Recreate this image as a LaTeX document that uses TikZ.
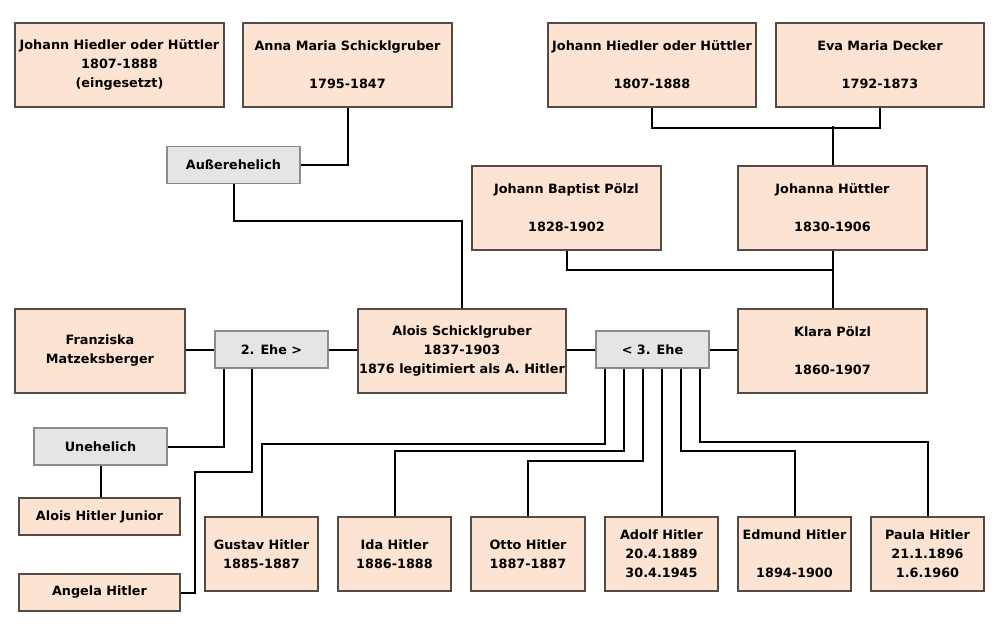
\documentclass[tikz,border=0pt]{standalone}
\usepackage{fontspec}
\setmainfont{DejaVu Sans}
\definecolor{peach}{RGB}{253,228,210}
\definecolor{peachline}{RGB}{85,75,70}
\definecolor{linkfill}{RGB}{229,229,229}
\definecolor{linkline}{RGB}{140,140,140}
\begin{document}
\begin{tikzpicture}[x=0.5pt,y=-0.5pt,
    person/.style={draw=peachline,line width=0.7pt,fill=peach,inner sep=0pt,align=center,font=\fontsize{6.4}{9.5}\selectfont\bfseries},
    union/.style={draw=linkline,line width=0.7pt,fill=linkfill,inner sep=0pt,align=center,minimum width=56.5pt,minimum height=18.5pt,font=\fontsize{6.4}{9.5}\selectfont\bfseries},
    tie/.style={line width=1pt}]
    \useasboundingbox[fill=white] (0,0) rectangle (1000,631);
    \node[person,minimum width=104.5pt,minimum height=42pt] (hiedlerA) at (119.5,65) {Johann Hiedler oder Hüttler\\1807-1888\\(eingesetzt)};
    \node[person,minimum width=104.5pt,minimum height=42pt] (anna) at (347.5,65) {Anna Maria Schicklgruber\\[9.5pt]1795-1847};
    \node[person,minimum width=104pt,minimum height=42pt] (hiedlerB) at (652,65) {Johann Hiedler oder Hüttler\\[9.5pt]1807-1888};
    \node[person,minimum width=104pt,minimum height=42pt] (eva) at (880,65) {Eva Maria Decker\\[9.5pt]1792-1873};
    \node[union,minimum width=66.5pt] (ausser) at (233.5,165) {Außerehelich};
    \node[person,minimum width=94.5pt,minimum height=42pt] (baptist) at (566.5,208) {Johann Baptist Pölzl\\[9.5pt]1828-1902};
    \node[person,minimum width=94.5pt,minimum height=42pt] (johanna) at (832.5,208) {Johanna Hüttler\\[9.5pt]1830-1906};
    \node[person,minimum width=85pt,minimum height=42pt] (franz) at (100,351) {Franziska\\Matzeksberger};
    \node[union] (eheB) at (271.5,349.5) {2. Ehe >};
    \node[person,minimum width=104pt,minimum height=42pt] (alois) at (462,351) {Alois Schicklgruber\\1837-1903\\1876 legitimiert als A. Hitler};
    \node[union] (eheC) at (652.5,349.5) {< 3. Ehe};
    \node[person,minimum width=94.5pt,minimum height=42pt] (klara) at (832.5,351) {Klara Pölzl\\[9.5pt]1860-1907};
    \node[union,minimum width=66.5pt] (unehel) at (100.5,446.5) {Unehelich};
    \node[person,minimum width=80.5pt,minimum height=18.5pt] (junior) at (99.5,516.5) {Alois Hitler Junior};
    \node[person,minimum width=80.5pt,minimum height=18.5pt] (angela) at (99.5,592.5) {Angela Hitler};
    \node[person,minimum width=56.5pt,minimum height=37pt] (gustav) at (261.5,554) {Gustav Hitler\\1885-1887};
    \node[person,minimum width=56.5pt,minimum height=37pt] (ida) at (394.5,554) {Ida Hitler\\1886-1888};
    \node[person,minimum width=57pt,minimum height=37pt] (otto) at (528,554) {Otto Hitler\\1887-1887};
    \node[person,minimum width=56.5pt,minimum height=37pt] (adolf) at (661.5,554) {Adolf Hitler\\20.4.1889\\30.4.1945};
    \node[person,minimum width=56.5pt,minimum height=37pt] (edmund) at (794.5,554) {Edmund Hitler\\[9.5pt]1894-1900};
    \node[person,minimum width=56.5pt,minimum height=37pt] (paula) at (927.5,554) {Paula Hitler\\21.1.1896\\1.6.1960};
    \draw[tie] (hiedlerB.south) -- ++(0,20) -| (eva.south);
    \draw[tie] (johanna.north) -- ++(0,-39);
    \draw[tie] (anna.south) |- (ausser.east);
    \draw[tie] (ausser.south) -- ++(0,37) -| (alois.north);
    \draw[tie] (baptist.south) -- ++(0,19) -| (klara.north);
    \draw[tie] (johanna.south) -- (klara.north);
    \draw[tie] (eheB.west) -- (eheB.west -| franz.east);
    \draw[tie] (eheB.east) -- (eheB.east -| alois.west);
    \draw[tie] (eheC.west) -- (eheC.west -| alois.east);
    \draw[tie] (eheC.east) -- (eheC.east -| klara.west);
    \draw[tie] ([xshift=-23.75pt]eheB.south) |- (unehel.east);
    \draw[tie] (unehel.south) -- (unehel.south |- junior.north);
    \draw[tie] ([xshift=-9.75pt]eheB.south) -- ++(0,103) -- ++(-57,0) |- (angela.east);
    \foreach \kid/\dx/\dy in {gustav/-24/75,ida/-14.5/82,otto/-5/92,edmund/14/82,paula/23.75/73} {
      \draw[tie] ([xshift=\dx pt]eheC.south) -- ++(0,\dy) -| (\kid.north);
    }
    \draw[tie] (adolf.north |- eheC.south) -- (adolf.north);
\end{tikzpicture}
\end{document}
